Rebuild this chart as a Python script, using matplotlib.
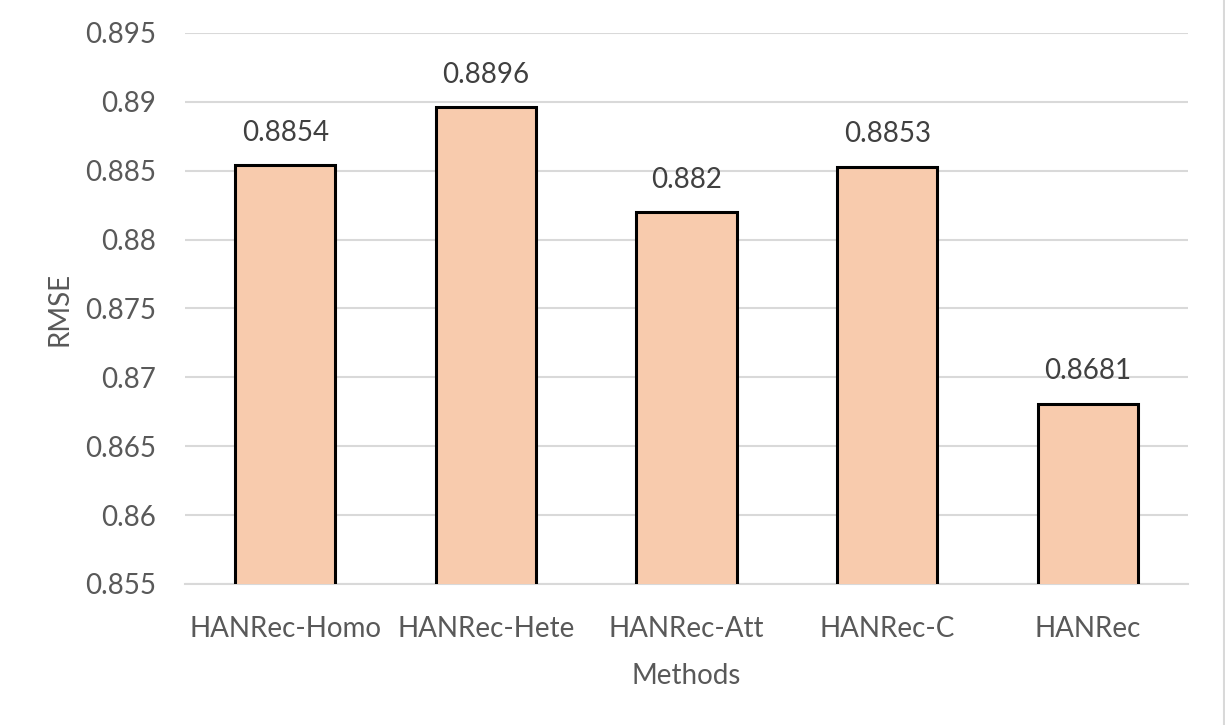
import matplotlib.pyplot as plt
from matplotlib.lines import Line2D

methods = ['HANRec-Homo', 'HANRec-Hete', 'HANRec-Att', 'HANRec-C', 'HANRec']
rmse = [0.8854, 0.8896, 0.882, 0.8853, 0.8681]
yticks = [0.855, 0.86, 0.865, 0.87, 0.875, 0.88, 0.885, 0.89, 0.895]
ytick_labels = ['0.855', '0.86', '0.865', '0.87', '0.875', '0.88', '0.885', '0.89', '0.895']

plt.rcParams['font.family'] = ['Lato', 'DejaVu Sans']

fig = plt.figure(figsize=(12.25, 7.25), dpi=100)
ax = fig.add_axes([0.151, 0.1945, 0.819, 0.76])

x = range(len(methods))
bars = ax.bar(x, rmse, width=0.5, color='#F8CBAD', edgecolor='black', linewidth=2.2, zorder=3)

for b, v in zip(bars, rmse):
    ax.annotate(str(v), (b.get_x() + b.get_width() / 2, v), xytext=(0, 14),
                textcoords='offset points', ha='center', va='bottom',
                fontsize=20, color='#404040')

ax.set_ylim(0.855, 0.895)
ax.set_xlim(-0.5, len(methods) - 0.5)
ax.set_yticks(yticks)
ax.set_yticklabels(ytick_labels)
ax.set_xticks(list(x))
ax.set_xticklabels(methods)
ax.tick_params(axis='both', length=0, labelsize=20, labelcolor='#595959')
ax.tick_params(axis='y', pad=21)
ax.tick_params(axis='x', pad=23)

ax.grid(axis='y', color='#D9D9D9', linewidth=1.5, zorder=0)
for s in ['top', 'right', 'left']:
    ax.spines[s].set_visible(False)
ax.spines['bottom'].set_color('#D9D9D9')
ax.spines['bottom'].set_linewidth(1.5)

ax.set_ylabel('RMSE', fontsize=20, color='#595959', labelpad=9)
ax.set_xlabel('Methods', fontsize=20, color='#595959', labelpad=15)

fig.add_artist(Line2D([0.999, 0.999], [0, 1], color='#D9D9D9', linewidth=1.5, transform=fig.transFigure))

fig.savefig('out.png', dpi=100)
